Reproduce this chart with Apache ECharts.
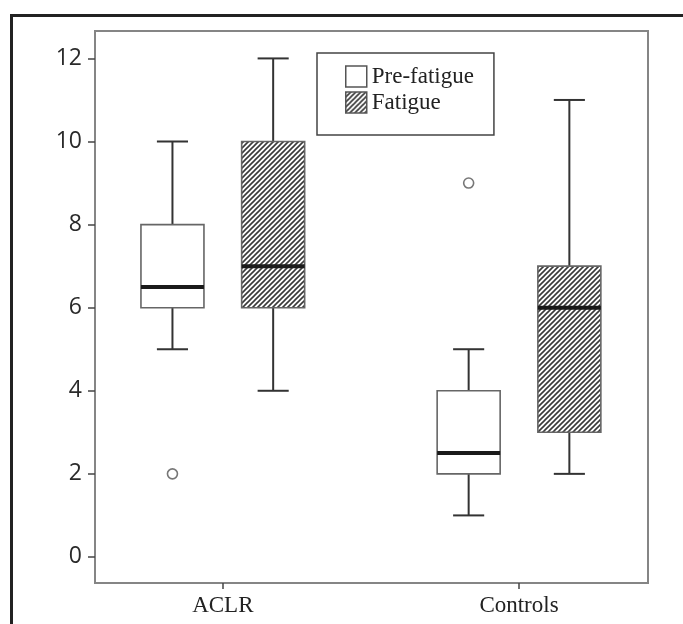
<!DOCTYPE html>
<html>
<head>
<meta charset="utf-8">
<script src="https://cdn.jsdelivr.net/npm/echarts@6/dist/echarts.min.js"></script>
<style>
html,body{margin:0;padding:0;background:#fff;}
#chart{width:683px;height:624px;}
</style>
</head>
<body>
<div id="chart"></div>
<script>
// ---- data ----
const categories = ['ACLR', 'Controls'];
const seriesNames = ['Pre-fatigue', 'Fatigue'];
// [min, Q1, median, Q3, max] per category
const preFatigue = [[5, 6, 6.5, 8, 10], [1, 2, 2.5, 4, 5]];
const fatigue = [[4, 6, 7, 10, 12], [2, 3, 6, 7, 11]];
// outliers of Pre-fatigue: [category index, value]
const preOutliers = [[0, 2], [1, 9]];
const yTicks = [0, 2, 4, 6, 8, 10, 12];

// ---- layout constants ----
const GROUP_OFFSET = 0.17;
const BOX_W = 0.2127;
const CAP_W = 0.105;

function hatchPattern() {
  const s = 5;
  const c = document.createElement('canvas');
  c.width = s; c.height = s;
  const g = c.getContext('2d');
  g.fillStyle = '#fff';
  g.fillRect(0, 0, s, s);
  g.strokeStyle = '#3a3a3a';
  g.lineWidth = 1.6;
  g.beginPath();
  g.moveTo(-1, s + 1); g.lineTo(s + 1, -1);
  g.moveTo(-1, 1); g.lineTo(1, -1);
  g.moveTo(s - 1, s + 1); g.lineTo(s + 1, s - 1);
  g.stroke();
  return { image: c, repeat: 'repeat' };
}
const hatch = hatchPattern();

function toData(arr) {
  return arr.map((v, i) => [i + 1].concat(v));
}

function makeRender(offset, fill) {
  return function (params, api) {
    const x = api.value(0) + offset;
    const vals = [1, 2, 3, 4, 5].map(k => api.value(k));
    const p = vals.map(v => api.coord([x, v]));
    const w = api.size([BOX_W, 0])[0];
    const cw = api.size([CAP_W, 0])[0];
    const cx = p[0][0];
    const wStyle = { stroke: '#333', lineWidth: 2 };
    return {
      type: 'group',
      children: [
        { type: 'line', shape: { x1: cx, y1: p[3][1], x2: cx, y2: p[4][1] }, style: wStyle },
        { type: 'line', shape: { x1: cx, y1: p[1][1], x2: cx, y2: p[0][1] }, style: wStyle },
        { type: 'line', shape: { x1: cx - cw / 2, y1: p[4][1], x2: cx + cw / 2, y2: p[4][1] }, style: wStyle },
        { type: 'line', shape: { x1: cx - cw / 2, y1: p[0][1], x2: cx + cw / 2, y2: p[0][1] }, style: wStyle },
        { type: 'rect', shape: { x: cx - w / 2, y: p[3][1], width: w, height: p[1][1] - p[3][1] },
          style: { fill: fill, stroke: '#666', lineWidth: 1.6 } },
        { type: 'line', shape: { x1: cx - w / 2, y1: p[2][1], x2: cx + w / 2, y2: p[2][1] },
          style: { stroke: '#1a1a1a', lineWidth: 4 } }
      ]
    };
  };
}

const chart = echarts.init(document.getElementById('chart'), null, { renderer: 'canvas' });
chart.setOption({
  animation: false,
  backgroundColor: '#fff',
  graphic: [{
    type: 'rect', silent: true, z: -10,
    shape: { x: 11.5, y: 15.5, width: 2000, height: 2000 },
    style: { fill: 'none', stroke: '#222', lineWidth: 3 }
  }],
  grid: {
    left: 95, right: 35, top: 31, bottom: 41,
    show: true, borderColor: '#858585', borderWidth: 2, backgroundColor: 'transparent'
  },
  legend: {
    left: 317, top: 53,
    orient: 'vertical',
    icon: 'rect',
    itemWidth: 21, itemHeight: 21, itemGap: 3,
    padding: [12, 20, 21, 28],
    backgroundColor: '#fff',
    borderColor: '#444', borderWidth: 1.5, borderRadius: 0,
    textStyle: { fontFamily: 'Liberation Serif', fontSize: 23, color: '#222' },
    data: [
      { name: seriesNames[0], itemStyle: { color: '#fff', borderColor: '#555', borderWidth: 1.5 } },
      { name: seriesNames[1], itemStyle: { color: hatch, borderColor: '#555', borderWidth: 1.5 } }
    ]
  },
  xAxis: {
    type: 'value',
    min: 0.5685, max: 2.4355,
    splitLine: { show: false },
    axisLine: { show: true, onZero: false, lineStyle: { color: '#858585', width: 2 } },
    axisTick: { show: true, customValues: [1, 2], length: 6, lineStyle: { color: '#444', width: 1.5 } },
    axisLabel: {
      customValues: [1, 2], margin: 11,
      formatter: v => categories[Math.round(v) - 1] || '',
      fontFamily: 'Liberation Serif', fontSize: 23, color: '#222'
    }
  },
  yAxis: {
    type: 'value',
    min: -0.627, max: 12.66,
    splitLine: { show: false },
    axisLine: { show: true, onZero: false, lineStyle: { color: '#858585', width: 2 } },
    axisTick: { show: true, customValues: yTicks, length: 7, lineStyle: { color: '#444', width: 1.5 } },
    axisLabel: {
      customValues: yTicks, margin: 13,
      fontFamily: 'Open Sans', fontSize: 23, color: '#2a2a2a'
    }
  },
  series: [
    {
      name: seriesNames[0], type: 'custom',
      renderItem: makeRender(-GROUP_OFFSET, '#fff'),
      itemStyle: { color: '#fff', borderColor: '#555' },
      encode: { x: 0, y: [1, 2, 3, 4, 5] },
      data: toData(preFatigue), z: 3
    },
    {
      name: seriesNames[1], type: 'custom',
      renderItem: makeRender(GROUP_OFFSET, hatch),
      itemStyle: { color: hatch, borderColor: '#555' },
      encode: { x: 0, y: [1, 2, 3, 4, 5] },
      data: toData(fatigue), z: 3
    },
    {
      name: 'Pre-fatigue outliers', type: 'scatter',
      symbol: 'circle', symbolSize: 10,
      itemStyle: { color: '#fff', borderColor: '#555', borderWidth: 1.6 },
      data: preOutliers.map(o => [o[0] + 1 - GROUP_OFFSET, o[1]]), z: 4
    }
  ]
});
</script>
</body>
</html>
